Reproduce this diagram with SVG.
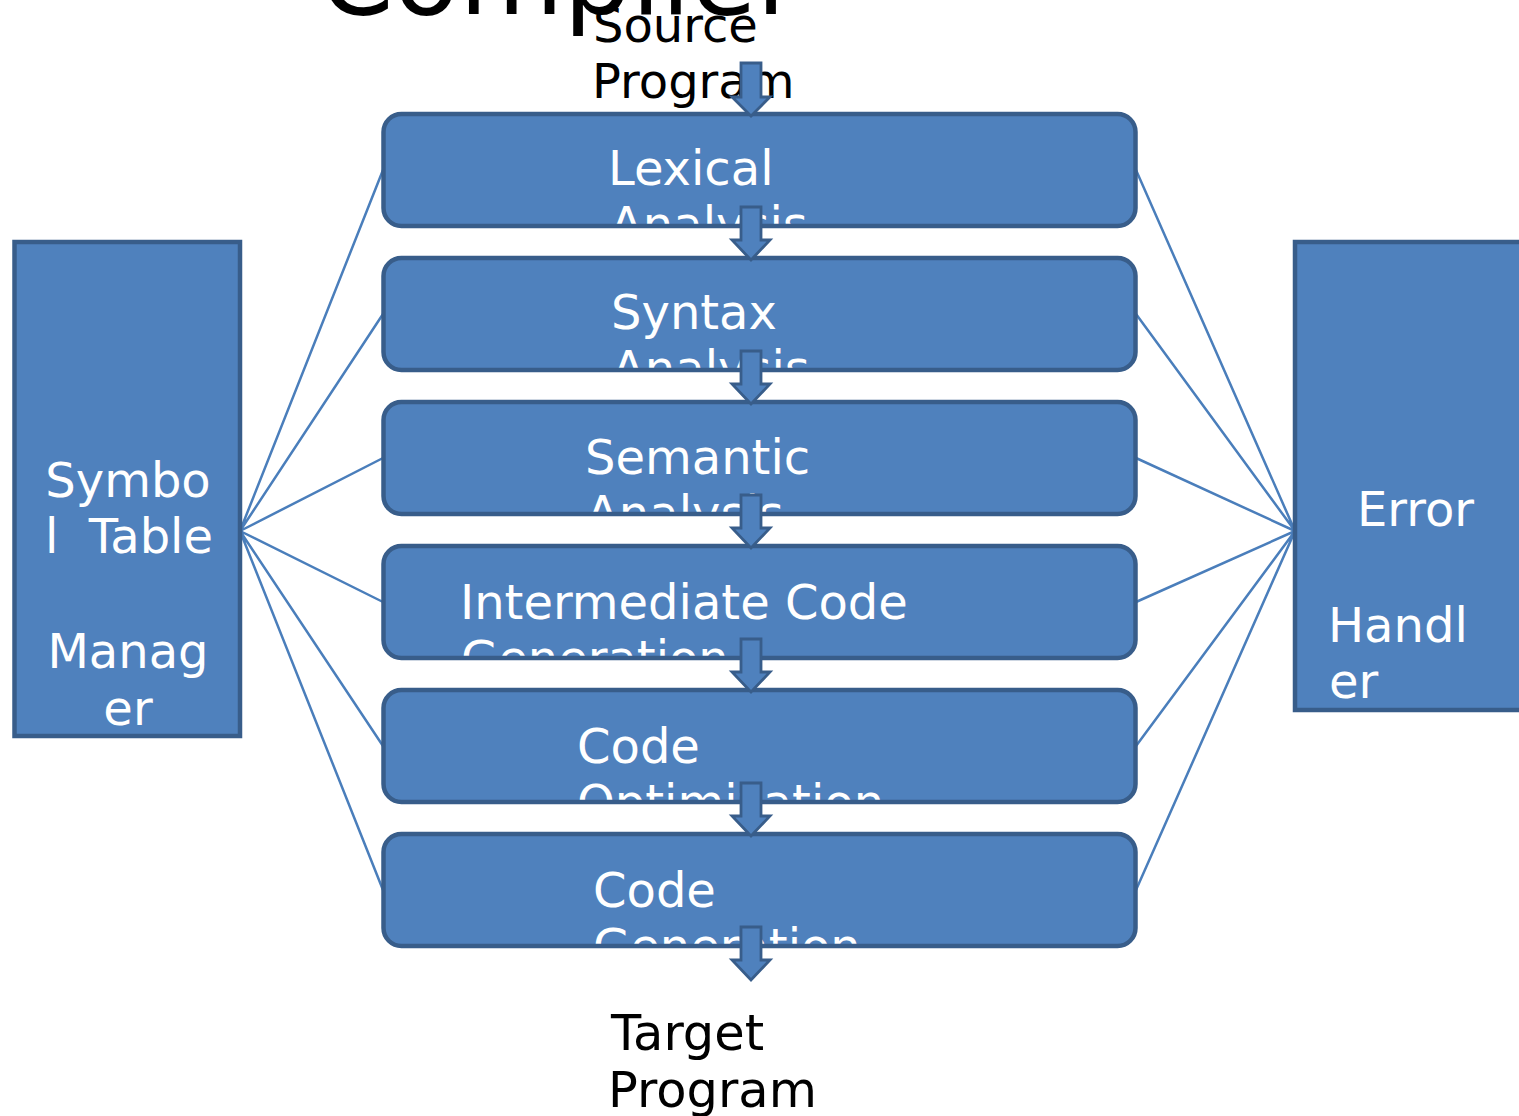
<svg xmlns="http://www.w3.org/2000/svg" width="1519" height="1116" viewBox="0 0 1519 1116">
<style>
.box{fill:#4F81BD}
.bor{fill:none;stroke:#385D8A;stroke-width:4.5}
.side{fill:#4F81BD;stroke:#385D8A;stroke-width:4.5}
.wt{font-family:"DejaVu Sans","Liberation Sans",sans-serif;font-size:48px;fill:#FFFFFF}
.bt{font-family:"DejaVu Sans","Liberation Sans",sans-serif;font-size:48px;fill:#000000}
.tg{font-size:49.5px}
.ln{stroke:#4A7EBB;stroke-width:2.5;fill:none}
.arr{fill:#4F81BD;stroke:#385D8A;stroke-width:2.8;stroke-linejoin:miter}
</style>
<defs>
<path id="dn" d="M-10,0 H10 V33 H19 L0,53 L-19,33 H-10 Z"/>
<clipPath id="c1"><rect x="383.5" y="114" width="752" height="112" rx="18"/></clipPath>
<clipPath id="c2"><rect x="383.5" y="258" width="752" height="112" rx="18"/></clipPath>
<clipPath id="c3"><rect x="383.5" y="402" width="752" height="112" rx="18"/></clipPath>
<clipPath id="c4"><rect x="383.5" y="546" width="752" height="112" rx="18"/></clipPath>
<clipPath id="c5"><rect x="383.5" y="690" width="752" height="112" rx="18"/></clipPath>
<clipPath id="c6"><rect x="383.5" y="834" width="752" height="112" rx="18"/></clipPath>
</defs>
<rect width="1519" height="1116" fill="#FFFFFF"/>
<text id="title" x="319" y="14" font-family="DejaVu Sans, Liberation Sans, sans-serif" font-size="107" fill="#000000">Compiler</text>
<g id="source"><text class="bt" x="593" y="42">Source</text><text class="bt" x="592" y="98">Program</text></g>
<g id="connectors">
<path class="ln" d="M240,531 L383,170 M240,531 L383,314 M240,531 L383,458 M240,531 L383,602 M240,531 L383,746 M240,531 L383,890"/>
<path class="ln" d="M1295,531 L1136,170 M1295,531 L1136,314 M1295,531 L1136,458 M1295,531 L1136,602 M1295,531 L1136,746 M1295,531 L1136,890"/>
</g>
<g id="symbol-table"><rect class="side" x="14.5" y="242" width="225.5" height="494"/>
<text class="wt" text-anchor="middle" x="128" y="497">Symbo</text>
<text class="wt" text-anchor="middle" x="129" y="553" xml:space="preserve">l  Table</text>
<text class="wt" text-anchor="middle" x="128" y="668">Manag</text>
<text class="wt" text-anchor="middle" x="128" y="725">er</text></g>
<g id="error-handler"><rect class="side" x="1295" y="242" width="240" height="468"/>
<text class="wt" x="1357" y="526">Error</text>
<text class="wt" x="1328" y="642">Handl</text>
<text class="wt" x="1329" y="698">er</text></g>
<g id="lexical"><rect class="box" x="383.5" y="114" width="752" height="112" rx="18"/>
<g clip-path="url(#c1)"><text class="wt" x="608" y="185">Lexical</text><text class="wt" x="610" y="241">Analysis</text></g>
<rect class="bor" x="383.5" y="114" width="752" height="112" rx="18"/></g>
<g id="syntax"><rect class="box" x="383.5" y="258" width="752" height="112" rx="18"/>
<g clip-path="url(#c2)"><text class="wt" x="611" y="329">Syntax</text><text class="wt" x="612" y="385">Analysis</text></g>
<rect class="bor" x="383.5" y="258" width="752" height="112" rx="18"/></g>
<g id="semantic"><rect class="box" x="383.5" y="402" width="752" height="112" rx="18"/>
<g clip-path="url(#c3)"><text class="wt" x="585" y="474">Semantic</text><text class="wt" x="586" y="530">Analysis</text></g>
<rect class="bor" x="383.5" y="402" width="752" height="112" rx="18"/></g>
<g id="intermediate"><rect class="box" x="383.5" y="546" width="752" height="112" rx="18"/>
<g clip-path="url(#c4)"><text class="wt" x="460" y="619">Intermediate Code</text><text class="wt" x="461" y="675">Generation</text></g>
<rect class="bor" x="383.5" y="546" width="752" height="112" rx="18"/></g>
<g id="optimization"><rect class="box" x="383.5" y="690" width="752" height="112" rx="18"/>
<g clip-path="url(#c5)"><text class="wt" x="577" y="763">Code</text><text class="wt" x="577" y="819">Optimization</text></g>
<rect class="bor" x="383.5" y="690" width="752" height="112" rx="18"/></g>
<g id="codegen"><rect class="box" x="383.5" y="834" width="752" height="112" rx="18"/>
<g clip-path="url(#c6)"><text class="wt" x="593" y="907">Code</text><text class="wt" x="593" y="963">Generation</text></g>
<rect class="bor" x="383.5" y="834" width="752" height="112" rx="18"/></g>
<g id="arrows">
<path class="arr" d="M741,63 H761 V97 H770 L751,116 L732,97 H741 Z"/>
<use href="#dn" class="arr" transform="translate(751,207)"/>
<use href="#dn" class="arr" transform="translate(751,351)"/>
<use href="#dn" class="arr" transform="translate(751,495)"/>
<use href="#dn" class="arr" transform="translate(751,639)"/>
<use href="#dn" class="arr" transform="translate(751,783)"/>
<use href="#dn" class="arr" transform="translate(751,927)"/>
</g>
<g id="target"><text class="bt tg" x="611" y="1050">Target</text><text class="bt tg" x="608" y="1107">Program</text></g>
</svg>
